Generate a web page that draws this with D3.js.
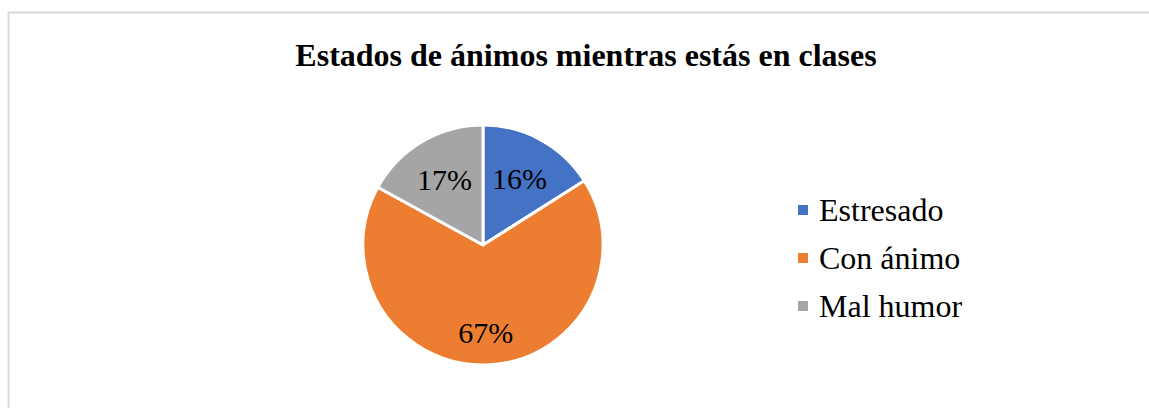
<!DOCTYPE html>
<html>
<head>
<meta charset="utf-8">
<script src="https://cdn.jsdelivr.net/npm/d3@7"></script>
<style>
  html, body { margin: 0; padding: 0; background: #fff; }
  svg { display: block; font-family: "Liberation Serif", "Times New Roman", serif; }
</style>
</head>
<body>
<div id="chart"></div>
<script>
const categories = ['Estresado', 'Con ánimo', 'Mal humor'];
const values = [16, 67, 17];
const labels = ['16%', '67%', '17%'];
const colors = ['#4472c4', '#ed7d31', '#a5a5a5'];

const width = 1149, height = 408;
const svg = d3.select('#chart').append('svg')
  .attr('width', width).attr('height', height);

// frame (chart area border, cut off at right and bottom)
svg.append('path')
  .attr('d', `M8.5,${height} V12.5 H${width}`)
  .attr('fill', 'none').attr('stroke', '#d9d9d9').attr('stroke-width', 2);

svg.append('text')
  .attr('x', 586).attr('y', 66)
  .attr('text-anchor', 'middle')
  .attr('font-weight', 'bold').attr('font-size', 32)
  .text('Estados de ánimos mientras estás en clases');

const cx = 483, cy = 245, r = 120;
const pie = d3.pie().sort(null).value(d => d);
const arcs = pie(values);
const arc = d3.arc().innerRadius(0).outerRadius(r);

const g = svg.append('g').attr('transform', `translate(${cx},${cy})`);
g.selectAll('path').data(arcs).enter().append('path')
  .attr('d', arc)
  .attr('fill', (d, i) => colors[i])
  .attr('stroke', '#fff').attr('stroke-width', 3).attr('stroke-linejoin', 'round');

// big slice label sits further out, like Excel's best fit
const labelR = (d) => (d.endAngle - d.startAngle > Math.PI ? 0.73 : 0.63) * r;
g.selectAll('text').data(arcs).enter().append('text')
  .attr('transform', d => {
    const c = d3.arc().innerRadius(labelR(d)).outerRadius(labelR(d)).centroid(d);
    return `translate(${c})`;
  })
  .attr('text-anchor', 'middle').attr('dy', '0.35em')
  .attr('font-size', 30)
  .text((d, i) => labels[i]);

const legend = svg.append('g').attr('transform', 'translate(798,210)');
const item = legend.selectAll('g').data(categories).enter().append('g')
  .attr('transform', (d, i) => `translate(0,${i * 48})`);
item.append('rect').attr('x', 0).attr('y', -5).attr('width', 10).attr('height', 10)
  .attr('fill', (d, i) => colors[i]);
item.append('text').attr('x', 21).attr('dy', '0.35em')
  .attr('font-size', 32)
  .text(d => d);
</script>
</body>
</html>
